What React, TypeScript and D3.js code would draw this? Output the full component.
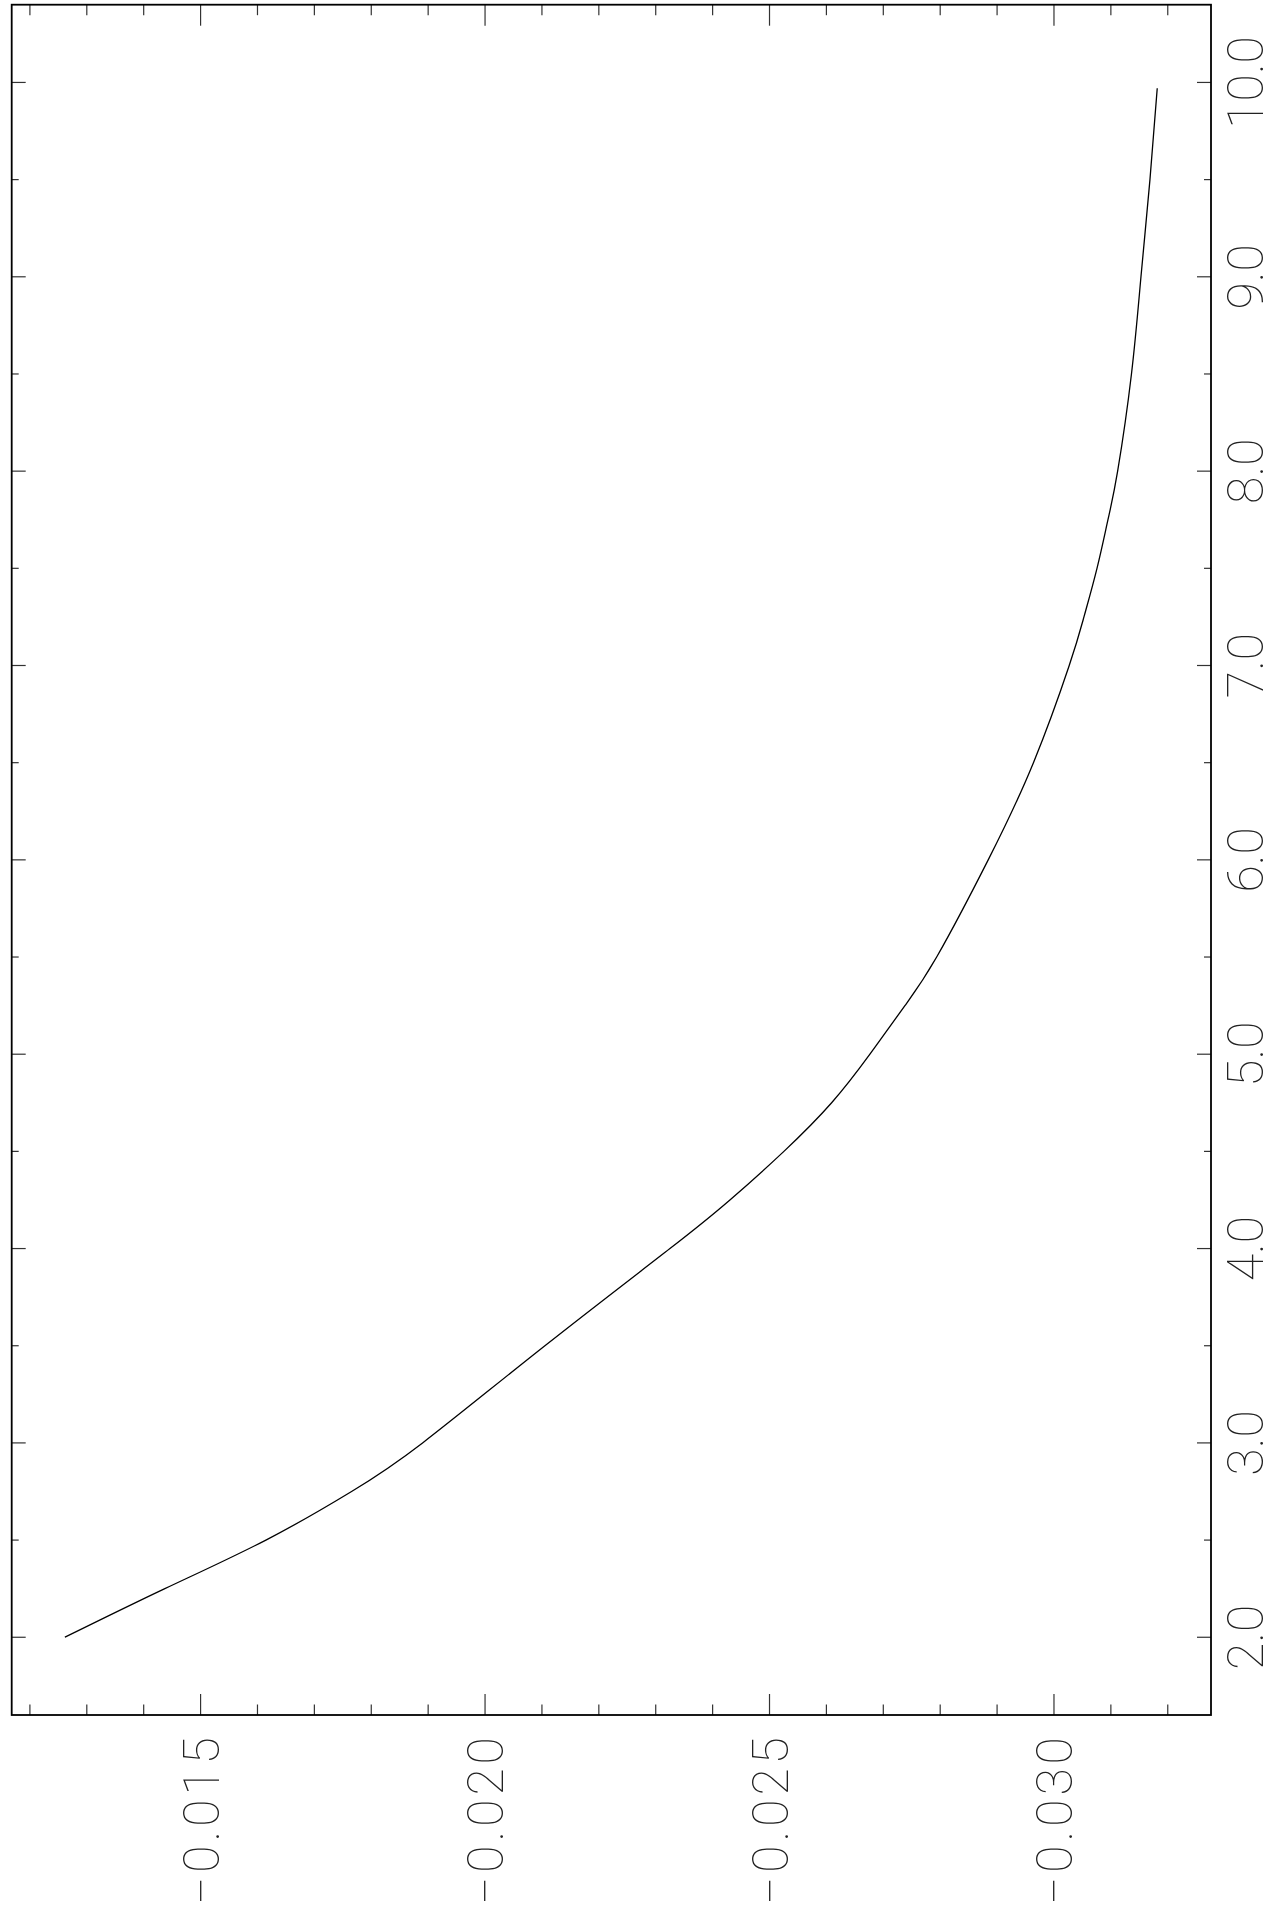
import React from 'react';
import * as d3 from 'd3';

// curve (x: 2..10, y: roughly -0.0126 .. -0.0318)
const xValues = [2.0, 2.25, 2.5, 2.75, 3.0, 3.5, 4.0, 4.25, 4.5, 4.75, 5.0, 5.25, 5.5, 6.0, 6.5, 7.0, 7.25, 7.5, 7.75, 8.0, 8.5, 9.0, 9.5, 9.97];
const yValues = [
    -0.012615, -0.014372, -0.016148, -0.017654, -0.018902, -0.021052, -0.02325, -0.024304, -0.025253,
    -0.026092, -0.026765, -0.02738, -0.027938, -0.028844, -0.029639, -0.030268, -0.030527, -0.030756,
    -0.030949, -0.031119, -0.031362, -0.031529, -0.031687, -0.031815
];

// tick positions
const xTickValues = d3.range(4, 21).map(i => i / 2);          // 2.0 .. 10.0 every 0.5
const yTickValues = d3.range(12, 33).map(i => -i / 1000);     // -0.012 .. -0.032 every 0.001
const xLabels = [2, 3, 4, 5, 6, 7, 8, 9, 10];
const yLabels = [-0.015, -0.020, -0.025, -0.030];

function App() {
    const W = 1275, H = 1923;
    // plot frame (the page is drawn rotated: x runs bottom -> top, y runs left -> right)
    const frame = { left: 11.7, right: 1211, top: 4.7, bottom: 1715 };

    const xScale = d3.scaleLinear().domain([1.6, 10.4]).range([frame.bottom, frame.top]);
    const yScale = d3.scaleLinear().domain([-0.01168, -0.03276]).range([frame.left, frame.right]);

    const data = xValues.map((x, i) => ({ x, y: yValues[i] }));
    const line = d3.line<{ x: number, y: number }>()
        .x(d => yScale(d.y))
        .y(d => xScale(d.x))
        .curve(d3.curveNatural);

    const fmtX = d3.format('.1f');
    const fmtY = d3.format('.3f');
    const font = 'Roboto, "Open Sans", Lato, "DejaVu Sans", sans-serif';

    return (
        <svg width={W} height={H} style={{ position: 'absolute', left: 0, top: 0, background: '#fff' }}>
            <rect x={0} y={0} width={W} height={H} fill="#fff" />

            {/* ticks along the top and bottom edges (y values) */}
            {yTickValues.map((v, i) => {
                const px = yScale(v);
                const major = Math.round(-v * 1000) % 5 === 0;
                const len = major ? 21 : 10.5;
                return (
                    <g key={'yt' + i} stroke="#333" strokeWidth={1.2}>
                        <line x1={px} x2={px} y1={frame.top} y2={frame.top + len} />
                        <line x1={px} x2={px} y1={frame.bottom} y2={frame.bottom - len} />
                    </g>
                );
            })}

            {/* ticks along the left and right edges (x values) */}
            {xTickValues.map((v, i) => {
                const py = xScale(v);
                const major = Number.isInteger(v);
                const len = major ? 14 : 7;
                return (
                    <g key={'xt' + i} stroke="#333" strokeWidth={1.2}>
                        <line x1={frame.left} x2={frame.left + len} y1={py} y2={py} />
                        <line x1={frame.right} x2={frame.right - len} y1={py} y2={py} />
                    </g>
                );
            })}

            {/* frame */}
            <rect x={frame.left} y={frame.top} width={frame.right - frame.left} height={frame.bottom - frame.top}
                fill="none" stroke="#000" strokeWidth={1.8} />

            {/* the curve */}
            <path d={line(data) || ''} fill="none" stroke="#000" strokeWidth={1.3} />

            {/* x labels on the right, reading bottom to top */}
            {xLabels.map((v, i) => (
                <text key={'xl' + i}
                    transform={`translate(${frame.right + 52},${xScale(v)}) rotate(-90)`}
                    textAnchor="middle" fontFamily={font} fontWeight={100} fontSize={50} fill="#222">
                    {fmtX(v)}
                </text>
            ))}

            {/* y labels below the bottom edge */}
            {yLabels.map((v, i) => (
                <text key={'yl' + i}
                    transform={`translate(${yScale(v) + 18},1821) rotate(-90)`}
                    textAnchor="middle" fontFamily={font} fontWeight={100} fontSize={50} fill="#222"
                    textLength={168} lengthAdjust="spacing">
                    {fmtY(v)}
                </text>
            ))}
        </svg>
    );
}

export default App;
